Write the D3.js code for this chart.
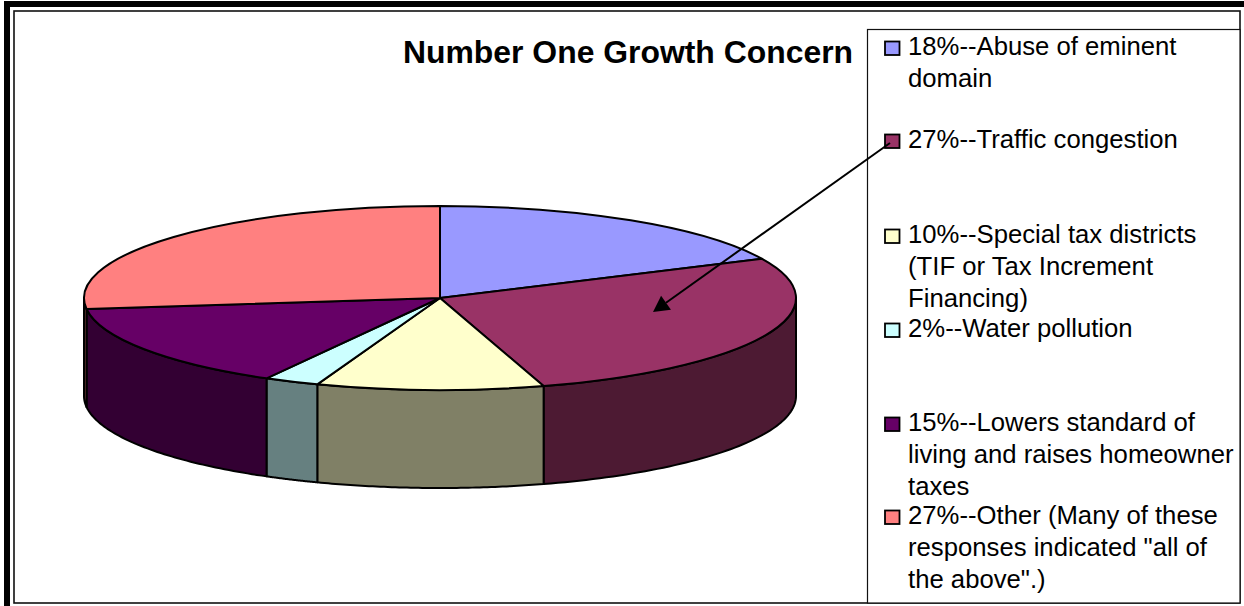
<!DOCTYPE html>
<html><head><meta charset="utf-8">
<script src="https://cdn.jsdelivr.net/npm/d3@7"></script>
<style>html,body{margin:0;padding:0;background:#fff}svg{display:block}text{font-family:"Liberation Sans",Arial,sans-serif;fill:#000}</style>
</head><body><svg id="c" width="1244" height="606"></svg>
<script>
const categories = ["Abuse of eminent domain","Traffic congestion","Special tax districts","Water pollution","Lowers standard of living","Other"];
const shares = [18, 27.3, 10.3, 2.5, 15, 26.9];
const topColors = ["#9999ff","#993366","#ffffcc","#ccffff","#660066","#ff8080"];
const sideColors = ["#4d4d80","#4d1a33","#808066","#668080","#330033","#804040"];
const legendLines = [
  ["18%--Abuse of eminent","domain"],
  ["27%--Traffic congestion"],
  ["10%--Special tax districts","(TIF or Tax Increment","Financing)"],
  ["2%--Water pollution"],
  ["15%--Lowers standard of","living and raises homeowner","taxes"],
  ["27%--Other (Many of these","responses indicated \"all of","the above\".)"]
];
const legendBaselines = [[55,87],[148],[243,275,307],[337],[431,463,495],[524,556,588]];
const titleText = "Number One Growth Concern";

const svg = d3.select("#c");
const W=1244,H=606;
svg.append("rect").attr("width",W).attr("height",H).attr("fill","#fff");
// frame
svg.append("path").attr("d","M7 606V4H1244").attr("fill","none").attr("stroke","#000").attr("stroke-width",6);
svg.append("rect").attr("x",14).attr("y",11).attr("width",1226).attr("height",592).attr("fill","none").attr("stroke","#111").attr("stroke-width",1.6);

const cx=440, cy=298, rx=356, ry=92, depth=98;
const pie=d3.pie().sort(null).value(d=>d)(shares);
const sx=a=>cx+rx*Math.sin(a), sy=a=>cy-ry*Math.cos(a);
const line=d3.line();
// walls
const walls=svg.append("g");
const fv=Math.PI/2, lv=3*Math.PI/2;
pie.forEach((p,i)=>{
  const a0=Math.max(p.startAngle,fv), a1=Math.min(p.endAngle,lv);
  if(a1<=a0) return;
  const as=d3.range(0,61).map(k=>a0+(a1-a0)*k/60);
  const pts=as.map(a=>[sx(a),sy(a)]).concat(as.slice().reverse().map(a=>[sx(a),sy(a)+depth]));
  walls.append("path").attr("d",line(pts)+"Z").attr("fill",sideColors[i]).attr("stroke","#000").attr("stroke-width",2).attr("stroke-linejoin","round");
});
// top
const arc=d3.arc().innerRadius(0).outerRadius(rx);
svg.append("g").attr("transform",`translate(${cx},${cy}) scale(1,${ry/rx})`)
  .selectAll("path").data(pie).join("path").attr("d",arc)
  .attr("fill",(d,i)=>topColors[i]).attr("stroke","#000").attr("stroke-width",2)
  .attr("vector-effect","non-scaling-stroke").attr("stroke-linejoin","round");

// title
svg.append("text").attr("x",403).attr("y",63).attr("font-size",31.9).attr("font-weight","bold").text(titleText);

// legend
svg.append("rect").attr("x",867.5).attr("y",29.5).attr("width",372.5).attr("height",573.5).attr("fill","#fff").attr("stroke","#111").attr("stroke-width",1.2);
const lg=svg.append("g");
legendLines.forEach((ls,i)=>{
  const b=legendBaselines[i];
  lg.append("rect").attr("x",885).attr("y",b[0]-13.5).attr("width",14.5).attr("height",13.5).attr("fill",topColors[i]).attr("stroke","#000").attr("stroke-width",1.8);
  ls.forEach((t,j)=>lg.append("text").attr("x",908).attr("y",b[j]).attr("font-size",25.7).text(t));
});
// arrow
const ax0=890, ay0=143, ax1=653, ay1=312;
const ang=Math.atan2(ay1-ay0,ax1-ax0), hl=16, hw=8.5;
const bx=ax1-hl*Math.cos(ang), by=ay1-hl*Math.sin(ang);
svg.append("line").attr("x1",ax0).attr("y1",ay0).attr("x2",bx).attr("y2",by).attr("stroke","#000").attr("stroke-width",2);
svg.append("path").attr("d",line([[ax1,ay1],[bx-hw*Math.sin(ang),by+hw*Math.cos(ang)],[bx+hw*Math.sin(ang),by-hw*Math.cos(ang)]])+"Z").attr("fill","#000");
</script></body></html>
